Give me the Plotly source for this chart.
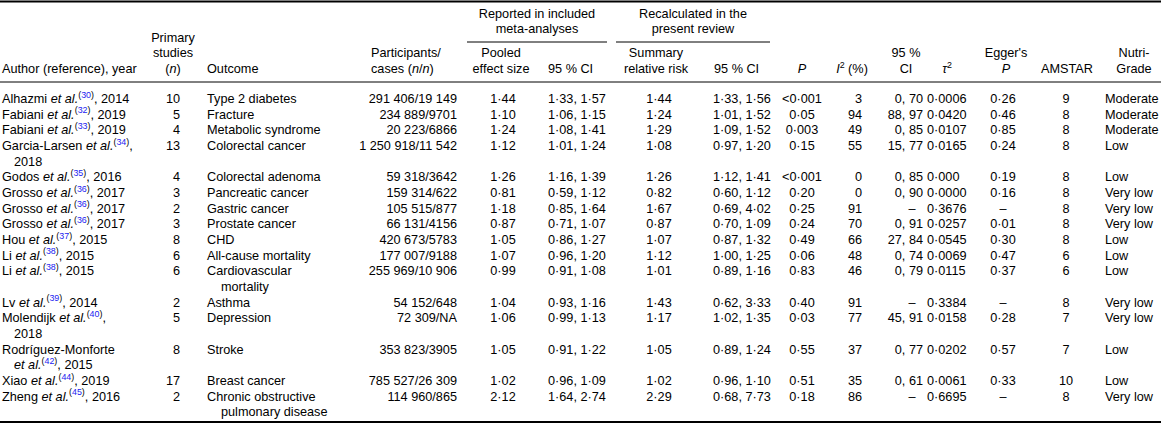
import plotly.graph_objects as go

# ---- table data ----
author_names = ["Alhazmi", "Fabiani", "Fabiani", "Garcia-Larsen", "Godos", "Grosso", "Grosso", "Grosso",
                "Hou", "Li", "Li", "Lv", "Molendijk", "Rodríguez-Monforte", "Xiao", "Zheng"]
ref_nums = [30, 32, 33, 34, 35, 36, 36, 36, 37, 38, 38, 39, 40, 42, 44, 45]
years = [2014, 2019, 2019, 2018, 2016, 2017, 2017, 2017, 2015, 2015, 2015, 2014, 2018, 2015, 2019, 2016]
# where the author cell wraps onto a second line ("" = no wrap)
author_wrap = ["", "", "", "year", "", "", "", "", "", "", "", "", "year", "etal", "", ""]
primary_studies = ["10", "5", "4", "13", "4", "3", "2", "3", "8", "6", "6", "2", "5", "8", "17", "2"]
outcomes = ["Type 2 diabetes", "Fracture", "Metabolic syndrome", "Colorectal cancer", "Colorectal adenoma",
            "Pancreatic cancer", "Gastric cancer", "Prostate cancer", "CHD", "All-cause mortality",
            "Cardiovascular|mortality", "Asthma", "Depression", "Stroke", "Breast cancer",
            "Chronic obstructive|pulmonary disease"]
participants = ["291 406/19 149", "234 889/9701", "20 223/6866", "1 250 918/11 542", "59 318/3642",
                "159 314/622", "105 515/877", "66 131/4156", "420 673/5783", "177 007/9188",
                "255 969/10 906", "54 152/648", "72 309/NA", "353 823/3905", "785 527/26 309", "114 960/865"]
pooled_es = ["1·44", "1·10", "1·24", "1·12", "1·26", "0·81", "1·18", "0·87", "1·05", "1·07", "0·99",
             "1·04", "1·06", "1·05", "1·02", "2·12"]
pooled_ci = ["1·33, 1·57", "1·06, 1·15", "1·08, 1·41", "1·01, 1·24", "1·16, 1·39", "0·59, 1·12",
             "0·85, 1·64", "0·71, 1·07", "0·86, 1·27", "0·96, 1·20", "0·91, 1·08", "0·93, 1·16",
             "0·99, 1·13", "0·91, 1·22", "0·96, 1·09", "1·64, 2·74"]
summary_rr = ["1·44", "1·24", "1·29", "1·08", "1·26", "0·82", "1·67", "0·87", "1·07", "1·12", "1·01",
              "1·43", "1·17", "1·05", "1·02", "2·29"]
summary_ci = ["1·33, 1·56", "1·01, 1·52", "1·09, 1·52", "0·97, 1·20", "1·12, 1·41", "0·60, 1·12",
              "0·69, 4·02", "0·70, 1·09", "0·87, 1·32", "1·00, 1·25", "0·89, 1·16", "0·62, 3·33",
              "1·02, 1·35", "0·89, 1·24", "0·96, 1·10", "0·68, 7·73"]
p_values = ["<0·001", "0·05", "0·003", "0·15", "<0·001", "0·20", "0·25", "0·24", "0·49", "0·06", "0·83",
            "0·40", "0·03", "0·55", "0·51", "0·18"]
i2 = ["3", "94", "49", "55", "0", "0", "91", "70", "66", "48", "46", "91", "77", "37", "35", "86"]
i2_ci = ["0, 70", "88, 97", "0, 85", "15, 77", "0, 85", "0, 90", "–", "0, 91", "27, 84", "0, 74", "0, 79",
         "–", "45, 91", "0, 77", "0, 61", "–"]
tau2 = ["0·0006", "0·0420", "0·0107", "0·0165", "0·000", "0·0000", "0·3676", "0·0257", "0·0545", "0·0069",
        "0·0115", "0·3384", "0·0158", "0·0202", "0·0061", "0·6695"]
egger_p = ["0·26", "0·46", "0·85", "0·24", "0·19", "0·16", "–", "0·01", "0·30", "0·47", "0·37", "–",
           "0·28", "0·57", "0·33", "–"]
amstar = ["9", "8", "8", "8", "8", "8", "8", "8", "8", "6", "6", "8", "7", "7", "10", "8"]
nutrigrade = ["Moderate", "Moderate", "Moderate", "Low", "Low", "Very low", "Very low", "Very low", "Low",
              "Low", "Low", "Very low", "Very low", "Low", "Low", "Very low"]

FONT = "Liberation Sans, Arial, sans-serif"
FS = 12.7
REF_COLOR = "#1b1bf0"
W, H = 1161, 428
LINE = 15.65   # line spacing in px
Y0 = 100       # first body line

# ---- build cell lines ----
def author_lines(name, ref, year, wrap):
    etal = "<i>et al.</i><sup>(<span style='color:%s'>%d</span>)</sup>" % (REF_COLOR, ref)
    if wrap == "year":
        return ["%s %s," % (name, etal), "%d" % year]
    if wrap == "etal":
        return [name, "%s, %d" % (etal, year)]
    return ["%s %s, %d" % (name, etal, year)]

rows_author = [author_lines(n, r, y, w) for n, r, y, w in zip(author_names, ref_nums, years, author_wrap)]
rows_outcome = [o.split("|") for o in outcomes]

row_y = []
y = Y0
for a, o in zip(rows_author, rows_outcome):
    row_y.append(y)
    y += LINE * max(len(a), len(o))

fig = go.Figure()


def add_text(xs, ys, texts, pos):
    fig.add_trace(go.Scatter(
        x=xs, y=ys, text=texts, mode="text", textposition=pos,
        textfont=dict(family=FONT, size=FS, color="black"),
        hoverinfo="skip", showlegend=False, cliponaxis=False,
    ))


def add_column(x, values, pos):
    add_text([x] * len(values), row_y, values, pos)


def add_wrapped(x, x_indent, lines_per_row):
    xs, ys, ts = [], [], []
    for ry, lines in zip(row_y, lines_per_row):
        for k, t in enumerate(lines):
            xs.append(x if k == 0 else x_indent)
            ys.append(ry + k * LINE)
            ts.append(t)
    add_text(xs, ys, ts, "middle right")


# body
add_wrapped(2, 14, rows_author)
add_column(180, primary_studies, "middle left")
add_wrapped(207, 221, rows_outcome)
add_column(457, participants, "middle left")
add_column(503, pooled_es, "middle center")
add_column(548, pooled_ci, "middle right")
add_column(659, summary_rr, "middle center")
add_column(713, summary_ci, "middle right")
add_column(802, p_values, "middle center")
add_column(862, i2, "middle left")
add_text([912 if v == "–" else 923 for v in i2_ci], row_y, i2_ci,
         ["middle center" if v == "–" else "middle left" for v in i2_ci])
add_column(927, tau2, "middle right")
add_column(1003, egger_p, "middle center")
add_column(1066, amstar, "middle center")
add_column(1105, nutrigrade, "middle right")

# header
HY = [39, 54, 70]
header = [
    (2, HY[2], "Author (reference), year", "middle right"),
    (173, HY[0], "Primary", "middle center"),
    (173, HY[1], "studies", "middle center"),
    (173, HY[2], "(<i>n</i>)", "middle center"),
    (207, HY[2], "Outcome", "middle right"),
    (371, HY[1], "Participants/", "middle right"),
    (371, HY[2], "cases (<i>n</i>/<i>n</i>)", "middle right"),
    (537, 15, "Reported in included", "middle center"),
    (537, 30, "meta-analyses", "middle center"),
    (501, HY[1], "Pooled", "middle center"),
    (501, HY[2], "effect size", "middle center"),
    (548, HY[2], "95 % CI", "middle right"),
    (693, 15, "Recalculated in the", "middle center"),
    (693, 30, "present review", "middle center"),
    (656, HY[1], "Summary", "middle center"),
    (656, HY[2], "relative risk", "middle center"),
    (714, HY[2], "95 % CI", "middle right"),
    (802, HY[2], "<i>P</i>", "middle center"),
    (852, HY[2], "<i>I</i><sup>2</sup> (%)", "middle center"),
    (906, HY[1], "95 %", "middle center"),
    (906, HY[2], "CI", "middle center"),
    (947, HY[2], "<i>τ</i><sup>2</sup>", "middle center"),
    (1006, HY[1], "Egger's", "middle center"),
    (1006, HY[2], "<i>P</i>", "middle center"),
    (1067, HY[2], "AMSTAR", "middle center"),
    (1134, HY[1], "Nutri-", "middle center"),
    (1134, HY[2], "Grade", "middle center"),
]
add_text([h[0] for h in header], [h[1] for h in header], [h[2] for h in header], [h[3] for h in header])

# rules
rules = [(0, W, 1.5, 2), (0, W, 82, 1), (467, 607, 42, 1), (616, 770, 42, 1), (0, W, 422, 2)]
for x0, x1, yy, lw in rules:
    fig.add_shape(type="line", x0=x0, x1=x1, y0=yy, y1=yy, xref="x", yref="y",
                  line=dict(color="black", width=lw))

fig.update_layout(
    width=W, height=H,
    margin=dict(l=0, r=0, t=0, b=0),
    paper_bgcolor="white", plot_bgcolor="white",
    xaxis=dict(range=[0, W], visible=False, fixedrange=True),
    yaxis=dict(range=[H, 0], visible=False, fixedrange=True),
)

fig.write_html("out.html", config={"displayModeBar": False},
               post_script="document.body.style.margin='0';")
